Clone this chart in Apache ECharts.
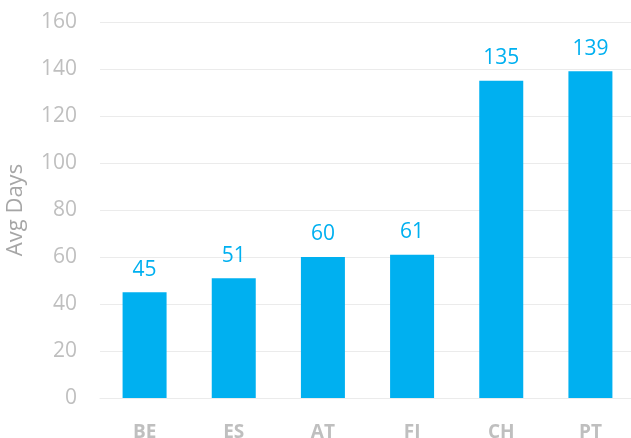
<!DOCTYPE html>
<html>
<head>
<meta charset="utf-8">
<script src="https://cdn.jsdelivr.net/npm/echarts@6/dist/echarts.min.js"></script>
<style>
html,body{margin:0;padding:0;background:#fff;}
#c{width:631px;height:438px;}
</style>
</head>
<body>
<div id="c"></div>
<script>
var categories = ["BE", "ES", "AT", "FI", "CH", "PT"];
var avgDays = [45, 51, 60, 61, 135, 139];
var yTicks = [0, 20, 40, 60, 80, 100, 120, 140, 160];

var chart = echarts.init(document.getElementById('c'), null, {renderer: 'canvas'});
chart.setOption({
  animation: false,
  grid: {left: 100, width: 535, top: 22, height: 376, containLabel: false, outerBoundsMode: 'none'},
  xAxis: {
    type: 'category',
    data: categories,
    axisLine: {show: true, lineStyle: {color: '#EBEBEB', width: 1}},
    axisTick: {show: false},
    axisLabel: {color: '#BFBFBF', fontFamily: 'Open Sans', fontWeight: 'bold', fontSize: 19, margin: 25}
  },
  yAxis: {
    type: 'value',
    min: yTicks[0],
    max: yTicks[yTicks.length - 1],
    interval: 20,
    name: 'Avg Days',
    nameLocation: 'middle',
    nameGap: 73,
    nameTextStyle: {color: '#A6A6A6', fontFamily: 'Open Sans', fontSize: 22},
    axisLine: {show: false},
    axisTick: {show: false},
    splitLine: {lineStyle: {color: '#EBEBEB', width: 1}},
    axisLabel: {color: '#BFBFBF', fontFamily: 'Open Sans', fontSize: 21, margin: 23}
  },
  series: [{
    type: 'bar',
    data: avgDays,
    barWidth: 44,
    itemStyle: {color: '#00B0F0'},
    label: {show: true, position: 'top', distance: 12, color: '#00B0F0', fontFamily: 'Open Sans', fontSize: 21}
  }]
});
</script>
</body>
</html>
